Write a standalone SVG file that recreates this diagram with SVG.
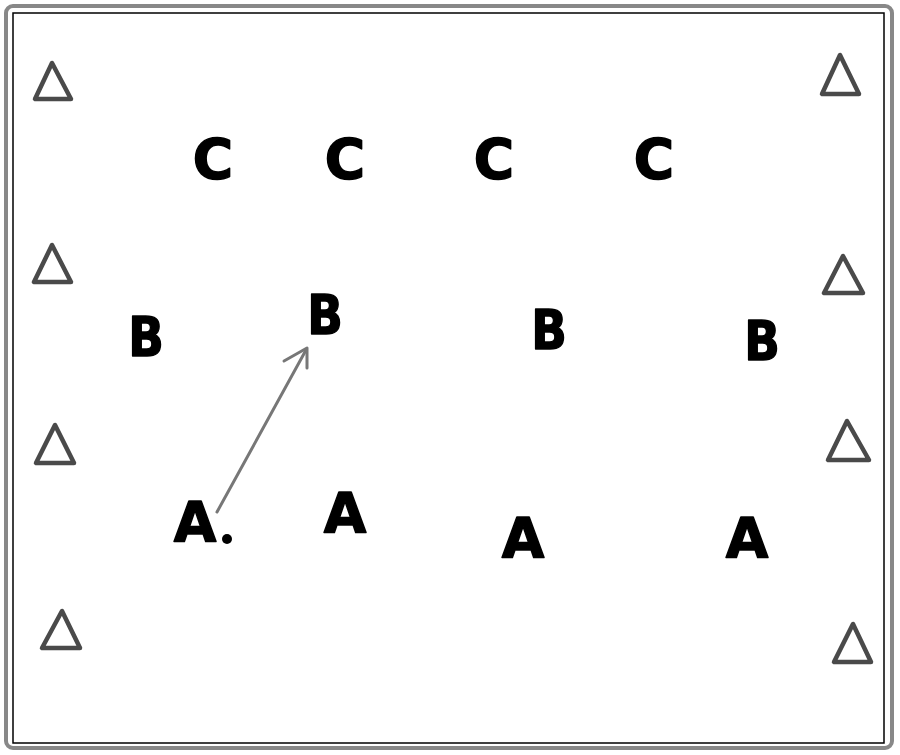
<svg xmlns="http://www.w3.org/2000/svg" width="900" height="755" viewBox="0 0 900 755">
<style>
.tri{fill:none;stroke:#4a4a4a;stroke-width:4.5;stroke-linejoin:round}
.lt{font-family:"DejaVu Sans","Liberation Sans",sans-serif;font-weight:bold;font-size:55px;fill:#000;stroke:#000;stroke-width:1.5;stroke-linejoin:round;text-anchor:middle}
.conn{stroke:#777;stroke-width:3;fill:none;stroke-linecap:round;stroke-linejoin:round}
</style>
<rect width="900" height="755" fill="#fff"/>
<g id="frame">
<rect x="6" y="6" width="886" height="742" rx="7" fill="none" stroke="#888" stroke-width="4"/>
<rect x="13" y="13" width="871" height="730" fill="none" stroke="#000" stroke-width="1.5"/>
</g>
<g id="cones-left">
<polygon class="tri" points="52,63 35,99 71,99"/>
<polygon class="tri" points="52,245 34,282 71,282"/>
<polygon class="tri" points="55,425 36,463 74,463"/>
<polygon class="tri" points="62,611 42,648 80,648"/>
</g>
<g id="cones-right">
<polygon class="tri" points="840,55 822,94 859,94"/>
<polygon class="tri" points="843,256 824,293 863,293"/>
<polygon class="tri" points="847,421 828,460 869,460"/>
<polygon class="tri" points="853,624 834,662 871,662"/>
</g>
<g id="row-c">
<text id="c1" class="lt" x="213" y="178">C</text>
<text id="c2" class="lt" x="345" y="178">C</text>
<text id="c3" class="lt" x="494" y="178">C</text>
<text id="c4" class="lt" x="654" y="178">C</text>
</g>
<g id="row-b">
<text id="b1" class="lt" transform="translate(146,356) scale(0.85,1)" x="0" y="0" font-size="58" stroke-width="2.5">B</text>
<text id="b2" class="lt" transform="translate(325,334) scale(0.85,1)" x="0" y="0" font-size="58" stroke-width="2.5">B</text>
<text id="b3" class="lt" transform="translate(549,349) scale(0.85,1)" x="0" y="0" font-size="58" stroke-width="2.5">B</text>
<text id="b4" class="lt" transform="translate(762,360) scale(0.85,1)" x="0" y="0" font-size="58" stroke-width="2.5">B</text>
</g>
<g id="row-a">
<text id="a1" class="lt" x="195" y="541">A</text>
<circle cx="227" cy="539" r="5" fill="#000"/>
<text id="a2" class="lt" x="345" y="532">A</text>
<text id="a3" class="lt" x="523" y="557">A</text>
<text id="a4" class="lt" x="747" y="557">A</text>
</g>
<g id="connectors">
<line class="conn" x1="217" y1="512" x2="306" y2="350"/>
<path class="conn" d="M284,361 L307,348 L307,368"/>
</g>
</svg>
